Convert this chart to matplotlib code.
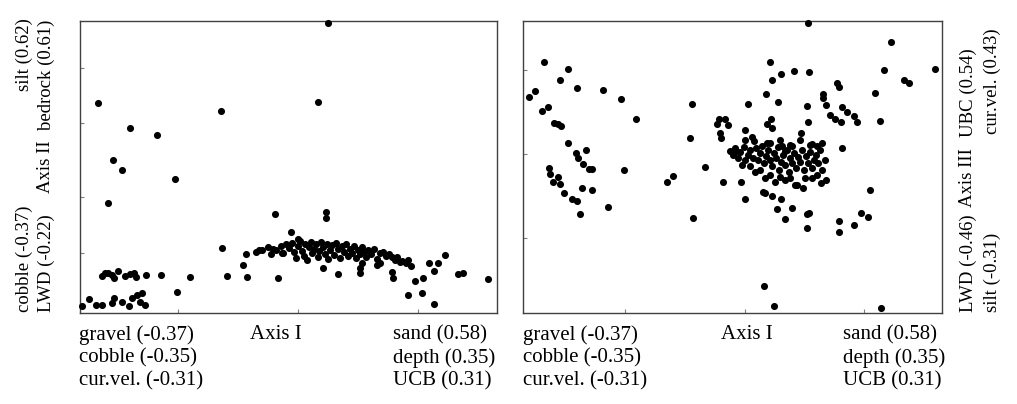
import matplotlib
matplotlib.use("Agg")
import matplotlib.pyplot as plt
import numpy as np

plt.rcParams['font.family'] = ['Liberation Serif', 'DejaVu Serif']

# site scores, Axis I vs Axis II (arbitrary units)
ax1_x = [18, 50, 77, 141, 33, 248, 238, 42, 95, 28, 195, 211, 218, 142, 166, 179, 193, 191, 202, 209,
         163, 147, 167, 198, 81, 110, 66, 22, 25, 28, 32, 34, 38, 45, 50, 54, 56,
         97, 62, 57, 52, 34, 32, 42, 60, 65, 49, 22, 16, 9, 2,
         246, 246, 243, 258, 280, 280, 282, 297, 300, 312, 313, 328, 335, 342, 343,
         349, 354, 358, 365, 354, 378, 383, 408, 317, 320, 328, 331,
         176, 182, 188, 196, 201, 203, 206, 212, 214, 216, 218, 220, 222, 224, 225, 227, 229, 231,
         232, 234, 236, 238, 239, 241, 243, 245, 247, 248, 250, 252, 254, 256, 258, 260, 262, 264,
         266, 268, 270, 272, 274, 276, 278, 280, 282, 284, 286, 288, 291, 294, 297, 300, 303, 306,
         309, 312, 315, 322, 326]
ax1_y = [210, 185, 178, 202, 153, 290, 211, 143, 134, 110, 99, 81, 74, 65, 59, 63, 64, 59, 60, 65,
         48, 37, 36, 35, 38, 36, 38, 37, 40, 40, 38, 35, 42, 37, 39, 40, 36,
         21, 20, 18, 15, 15, 10, 11, 11, 8, 7, 8, 8, 14, 7,
         101, 95, 45, 39, 40, 45, 50, 48, 50, 41, 35, 18, 32, 20, 35,
         50, 42, 50, 58, 9, 39, 40, 34, 56, 51, 53, 47,
         61, 63, 66, 63, 67, 60, 69, 70, 61, 55, 67, 72, 62, 57, 69, 53, 66, 71,
         60, 64, 69, 56, 62, 71, 66, 59, 69, 54, 63, 68, 58, 70, 64, 55, 67, 61,
         69, 57, 64, 60, 67, 55, 63, 59, 66, 61, 56, 63, 59, 64, 54, 60, 61, 57,
         59, 56, 53, 52, 50]

# site scores, Axis I vs Axis III
ax2_x = [21, 45, 37, 12, 6, 54, 80, 98, 19, 25, 31, 35, 38, 113, 169, 167, 45, 53, 55, 63,
         194, 196, 202, 205, 197, 198, 207, 60, 66, 69, 26, 27, 35, 30, 37, 41, 59, 69, 49, 54,
         57, 85, 101, 144, 150, 182, 170, 200, 285, 368, 247, 258, 249, 271, 286, 361, 412, 381,
         386, 314, 316, 243, 352, 300, 300, 303, 255, 225, 284, 319, 324, 307, 312, 318, 331, 334,
         357, 248, 244, 249, 285, 222, 229, 278, 244, 259, 269, 262, 289, 294, 299, 319, 213, 218,
         222, 240, 242, 249, 258, 254, 269, 262, 284, 286, 284, 298, 303, 280, 274, 316, 316, 331,
         338, 345, 347, 241, 251, 358,
         212, 217, 221, 225, 227, 230, 233, 235, 237, 239, 241, 243, 245, 247, 249, 251, 253, 255,
         256, 258, 260, 262, 264, 266, 267, 269, 271, 273, 275, 277, 279, 281, 283, 285, 287, 289,
         291, 293, 295, 297, 237, 242, 247, 252, 257, 262, 267, 272, 232, 227, 222, 219, 215, 210,
         267, 277, 287, 282, 289, 294, 299, 302, 247, 257, 231, 222]
ax2_y = [251, 244, 233, 222, 216, 225, 223, 214, 202, 206, 190, 189, 187, 194, 209, 175, 170, 160, 155, 163,
         189, 194, 194, 188, 180, 175, 162, 149, 144, 144, 145, 139, 136, 131, 129, 120, 125, 123, 114, 112,
         99, 106, 143, 131, 137, 146, 95, 131, 290, 271, 251, 239, 233, 242, 241, 243, 244, 233,
         230, 230, 226, 219, 220, 219, 215, 208, 211, 209, 207, 206, 201, 198, 194, 191, 197, 191,
         192, 194, 189, 185, 191, 183, 176, 180, 170, 167, 167, 162, 169, 167, 170, 165, 162, 131,
         114, 121, 120, 117, 114, 104, 105, 94, 99, 100, 85, 130, 133, 125, 128, 92, 81, 88,
         100, 96, 123, 27, 7, 5,
         165, 161, 166, 158, 163, 155, 165, 153, 160, 167, 150, 157, 163, 153, 147, 160, 155, 166,
         143, 151, 158, 148, 163, 141, 155, 150, 160, 145, 156, 151, 163, 143, 157, 150, 161, 145,
         153, 158, 150, 163, 143, 135, 138, 131, 136, 133, 135, 128, 141, 147, 153, 148, 155, 158,
         168, 173, 168, 135, 135, 138, 143, 153, 170, 173, 172, 173]

left_labels = ["gravel (-0.37)", "cobble (-0.35)", "cur.vel. (-0.31)"]
right_labels = ["sand (0.58)", "depth (0.35)", "UCB (0.31)"]

W, H = 1017, 404
fig = plt.figure(figsize=(W / 100, H / 100), dpi=100)


def px(x, y):
    return x / W, 1 - y / H


def panel(rect, xs, ys, xlim, xticks, yticks):
    ax = fig.add_axes(rect)
    ax.scatter(xs, ys, s=26, c='black', linewidths=0, clip_on=False, zorder=3)
    ax.set_xlim(*xlim)
    ax.set_ylim(0, 292)
    ax.set_xticks(xticks)
    ax.set_yticks(yticks)
    ax.set_xticklabels([])
    ax.set_yticklabels([])
    ax.tick_params(direction='in', length=3, width=0.8, color='#808080')
    for s in ax.spines.values():
        s.set_color('#404040')
        s.set_linewidth(1.0)
    return ax


panel([80 / W, (H - 313) / H, 417 / W, 292 / H], ax1_x, ax1_y, (0, 417), [98, 218, 338], [60, 116, 190, 245])
panel([523 / W, (H - 313) / H, 419 / W, 292 / H], ax2_x, ax2_y, (0, 419), [102, 222, 341], [75, 159, 243])

fs = 15
# bottom loading labels
for x0, xa, xr in [(79, 276, 393), (523, 747, 843)]:
    fig.text(*px(x0, 325), "\n".join(left_labels), fontsize=fs, ha='left', va='top', linespacing=1.25)
    fig.text(*px(xa, 325), "Axis I", fontsize=fs, ha='center', va='top')
    fig.text(*px(xr, 325), "\n".join(right_labels), fontsize=fs, ha='left', va='top', linespacing=1.25)

vfs = 13.5
# left side, Axis II
fig.text(*px(24, 18), "silt (0.62)", fontsize=vfs, rotation=90, ha='center', va='top')
fig.text(*px(46, 20), "bedrock (0.61)", fontsize=vfs, rotation=90, ha='center', va='top')
fig.text(*px(46, 167), "Axis II", fontsize=vfs, rotation=90, ha='center', va='center')
fig.text(*px(24, 312), "cobble (-0.37)", fontsize=vfs, rotation=90, ha='center', va='bottom')
fig.text(*px(46, 312), "LWD (-0.22)", fontsize=vfs, rotation=90, ha='center', va='bottom')

# right side, Axis III
fig.text(*px(968, 48), "UBC (0.54)", fontsize=vfs, rotation=90, ha='center', va='top')
fig.text(*px(992, 28), "cur.vel. (0.43)", fontsize=vfs, rotation=90, ha='center', va='top')
fig.text(*px(968, 178), "Axis III", fontsize=vfs, rotation=90, ha='center', va='center')
fig.text(*px(968, 312), "LWD (-0.46)", fontsize=vfs, rotation=90, ha='center', va='bottom')
fig.text(*px(992, 312), "silt (-0.31)", fontsize=vfs, rotation=90, ha='center', va='bottom')

fig.savefig("out.png", dpi=100)
